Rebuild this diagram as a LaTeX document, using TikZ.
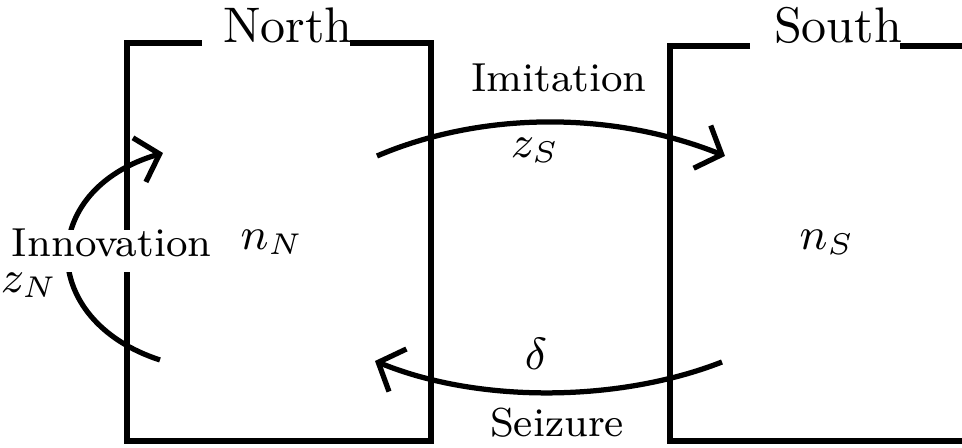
\documentclass[tikz,border=0pt]{standalone}
\usetikzlibrary{arrows.meta}
\tikzset{
  wall/.style={line width=1.05pt, line join=miter, line cap=butt},
  flow/.style={line width=1.05pt, -{Straight Barb[length=4.2pt,width=9.2pt,line width=1.05pt]}},
  lbl/.style={inner sep=0pt, anchor=base, font=\fontsize{8.1}{10}\selectfont},
  mth/.style={inner sep=0pt, anchor=base, font=\fontsize{9}{11}\selectfont},
  ttl/.style={inner sep=0pt, anchor=base, font=\fontsize{10}{12}\selectfont},
}
\begin{document}
\begin{tikzpicture}[x=0.2pt,y=-0.2pt]
\useasboundingbox (0,0) rectangle (962,448);
% box corners
\coordinate (nTL) at (202,43);
\coordinate (nTR) at (350,43);
\coordinate (sTL) at (750,46);
\coordinate (sTR) at (900,46);
\coordinate (sEnd) at (965,46);
\coordinate (sBot) at (965,441);
% North box
\draw[wall] (nTL) -- (127,43) -- (127,441) -- (431,441) -- (431,43) -- (nTR);
% South box
\draw[wall] (sTL) -- (670,46) -- (670,441) -- (sBot);
\draw[wall] (sTR) -- (sEnd);
% titles
\node[ttl] (north) at (288,43) {North};
\node[ttl] (south) at (838,43) {South};
% innovation arc
\coordinate (inA) at (160,360);
\coordinate (inB) at (163,153);
\draw[flow] (inA) .. controls (37,320) and (37,190) .. (inB);
\node[lbl, anchor=base west, fill=white, text height=5.4pt, text depth=3.0pt] (innov) at (11,257) {Innovation};
\node[mth, anchor=base west] (zN) at (0,293) {$z_N$};
% imitation
\coordinate (imA) at (377,156);
\coordinate (imB) at (725,156);
\draw[flow] (imA) .. controls (480,112) and (610,110) .. (imB);
\node[lbl] (imit) at (559,92) {Imitation};
\node[mth] (zS) at (535,158) {$z_S$};
% seizure
\coordinate (szA) at (722,362);
\coordinate (szB) at (375,361);
\draw[flow] (szA) .. controls (620,402) and (480,404) .. (szB);
\node[mth] (delta) at (536,370) {$\delta$};
\node[lbl] (seiz) at (557,437) {Seizure};
% stocks
\node[mth] (nN) at (272,250) {$n_N$};
\node[mth] (nS) at (827,250) {$n_S$};
\end{tikzpicture}
\end{document}
